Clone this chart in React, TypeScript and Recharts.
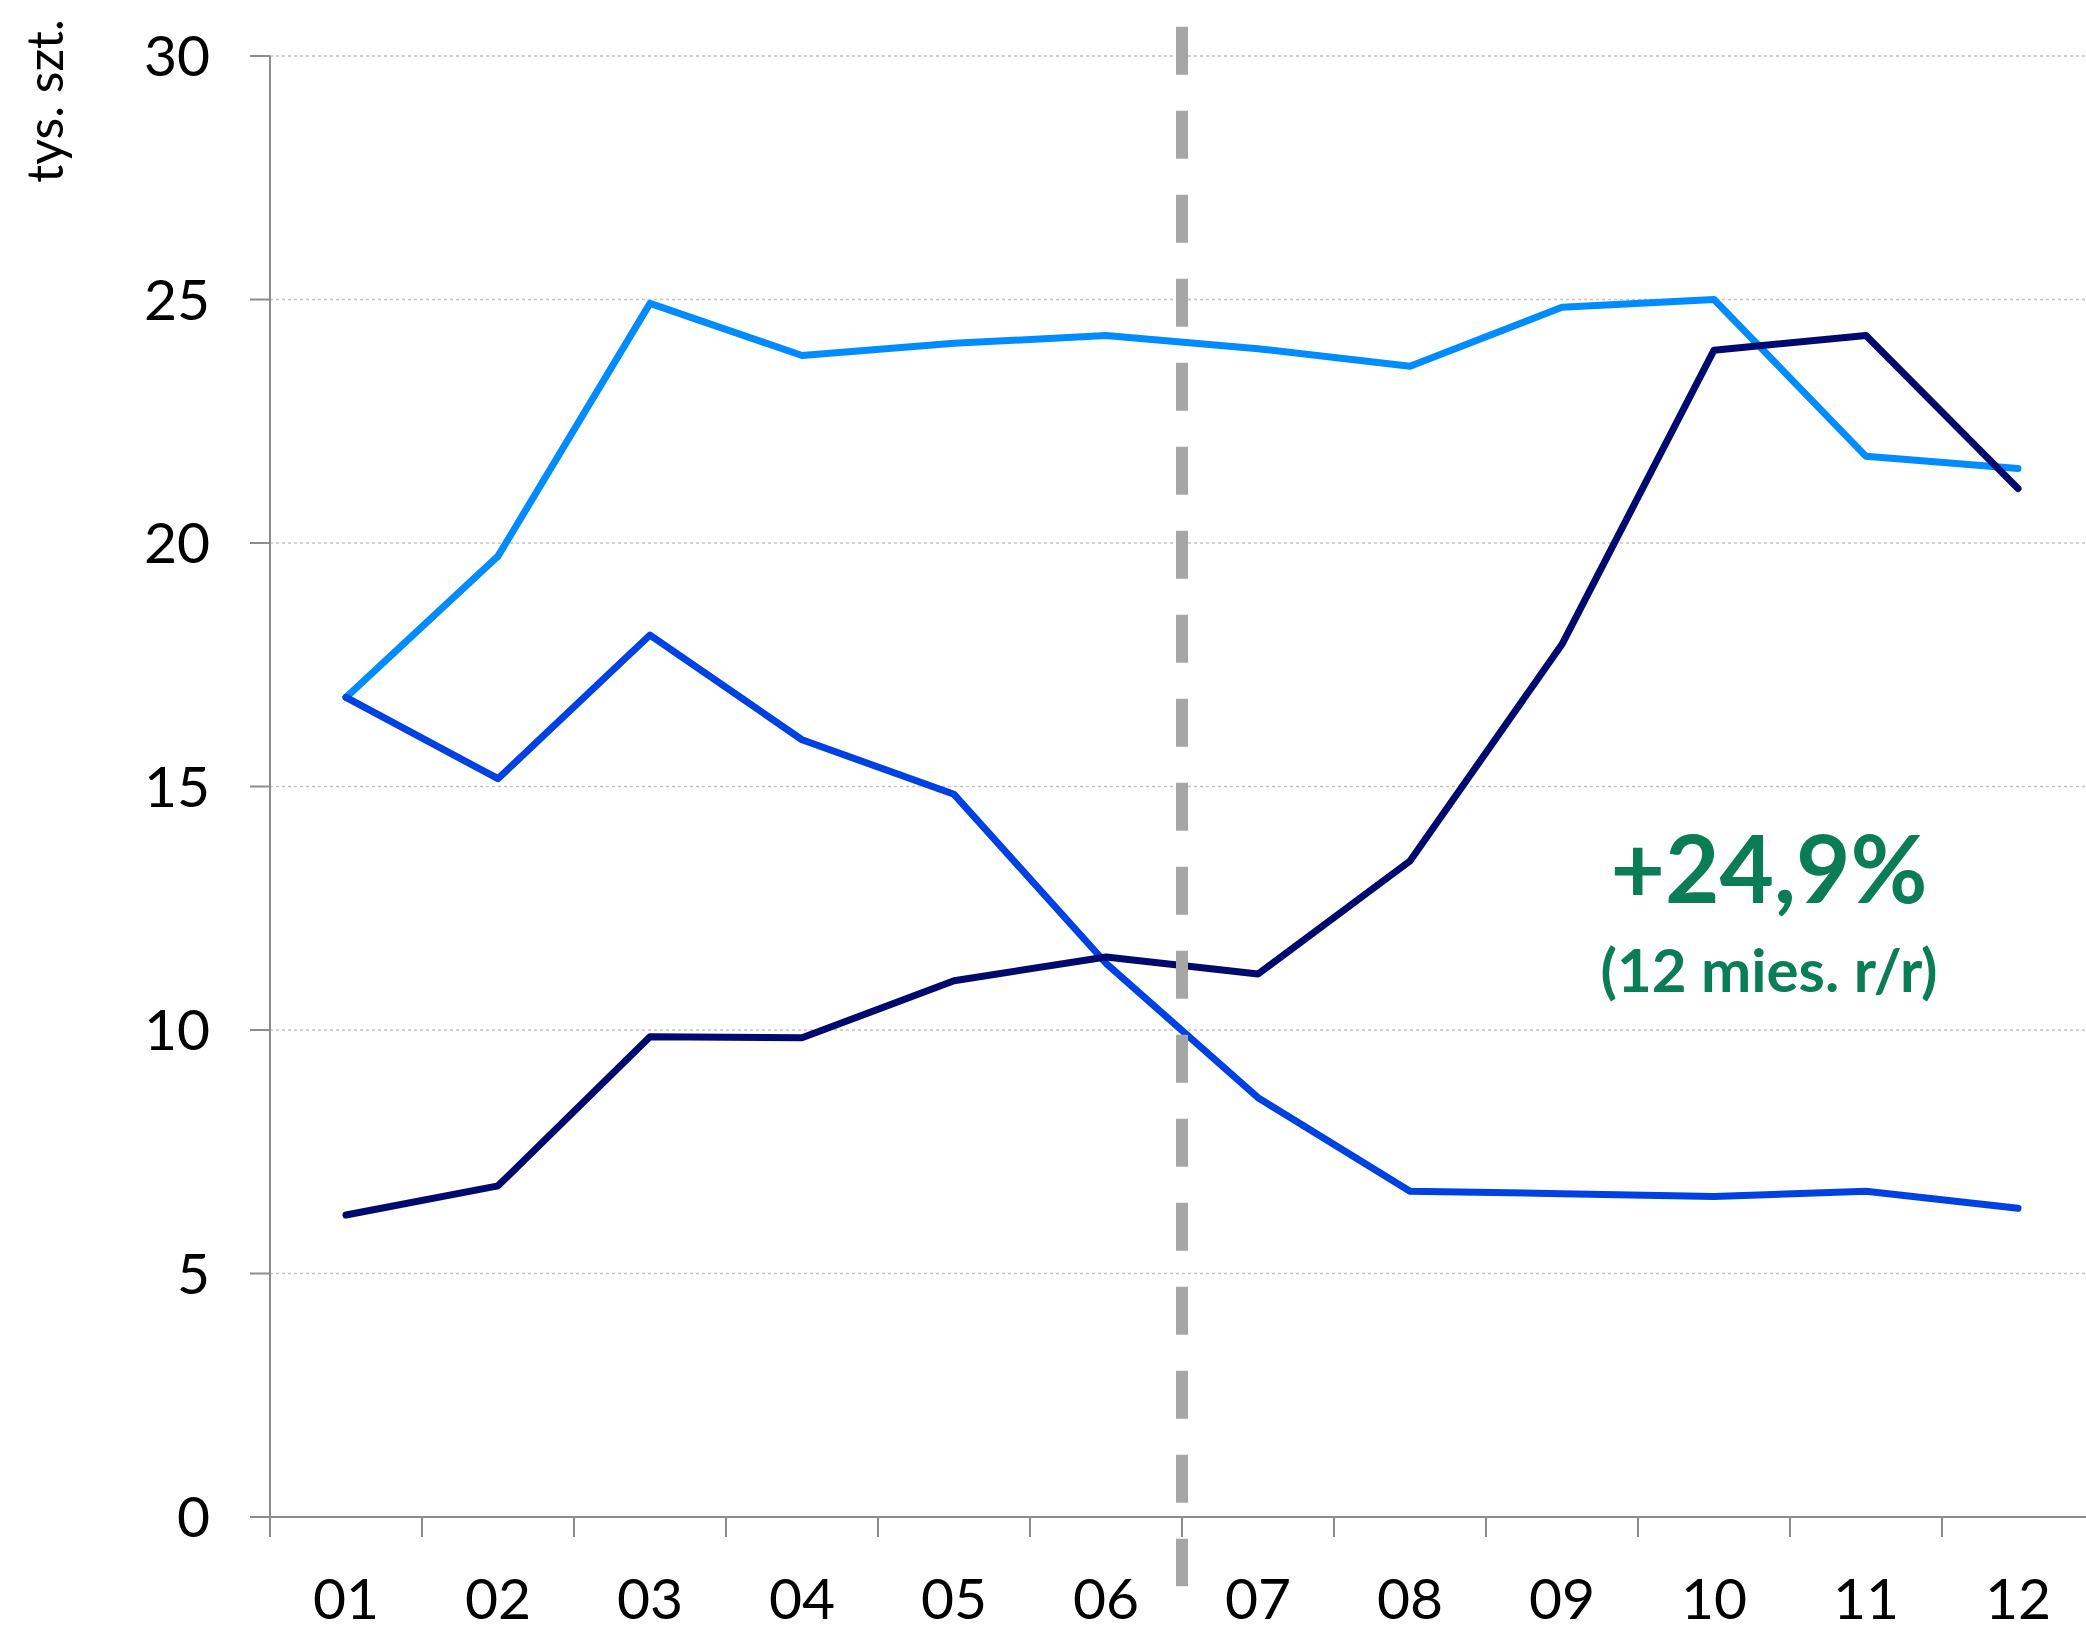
import React from 'react';
import {
  LineChart,
  Line,
  XAxis,
  YAxis,
  CartesianGrid,
  ReferenceLine,
} from 'recharts';

// Monthly values, tys. szt. — three series.
const MONTHS = ['01', '02', '03', '04', '05', '06', '07', '08', '09', '10', '11', '12'];
const LIGHT = [16.83, 19.73, 24.92, 23.85, 24.1, 24.26, 23.99, 23.63, 24.84, 25.0, 21.78, 21.53];
const MID = [16.83, 15.16, 18.11, 15.96, 14.84, 11.37, 8.61, 6.69, 6.64, 6.58, 6.69, 6.34];
const NAVY = [6.2, 6.8, 9.86, 9.84, 11.01, 11.5, 11.15, 13.47, 17.92, 23.96, 24.26, 21.12];
const Y_TICKS = [0, 5, 10, 15, 20, 25, 30];
const X_TICKS = [0, 1, 2, 3, 4, 5, 6, 7, 8, 9, 10, 11, 12];

// boundary between 06 and 07, dashed divider
const DIVIDER_X = 6;

const W = 2094;
const H = 1632;
const LEFT = 270;
const BAND = (W - LEFT) / MONTHS.length;
const FONT = 'Lato, "Open Sans", sans-serif';
const AXIS = '#8c8c8c';
const LINE_W = 7;

const data = MONTHS.map((m, i) => ({
  month: m,
  x: i + 0.5,
  light: LIGHT[i],
  mid: MID[i],
  navy: NAVY[i],
}));

function MonthTick(props: any) {
  const { x, y, payload } = props;
  const label = MONTHS[payload.value];
  if (label === undefined) return null;
  return (
    <text
      x={x + BAND / 2}
      y={y + 82}
      textAnchor="middle"
      fontSize={57}
      fontFamily={FONT}
      fill="#000"
    >
      {label}
    </text>
  );
}

export default function App() {
  return (
    <div
      style={{
        position: 'fixed',
        left: 0,
        top: 0,
        width: 2086,
        height: H,
        overflow: 'hidden',
        background: '#fff',
      }}
    >
      <LineChart width={W} height={H} data={data} margin={{ top: 56, right: 0, bottom: 0, left: 0 }}>
        <CartesianGrid vertical={false} stroke="#c4c4c4" strokeDasharray="3 3" strokeWidth={1.5} />
        <XAxis
          dataKey="x"
          type="number"
          domain={[0, 12]}
          ticks={X_TICKS}
          interval={0}
          height={115}
          tickSize={20}
          tickMargin={0}
          axisLine={{ stroke: AXIS, strokeWidth: 2 }}
          tickLine={{ stroke: AXIS, strokeWidth: 2 }}
          tick={<MonthTick />}
        />
        <YAxis
          domain={[0, 30]}
          ticks={Y_TICKS}
          interval={0}
          width={LEFT}
          tickSize={20}
          tickMargin={40}
          axisLine={{ stroke: AXIS, strokeWidth: 2 }}
          tickLine={{ stroke: AXIS, strokeWidth: 2 }}
          tick={{ fontSize: 57, fontFamily: FONT, fill: '#000' }}
        />
        <Line
          dataKey="light"
          stroke="#008cff"
          strokeWidth={LINE_W}
          dot={false}
          strokeLinecap="round"
          strokeLinejoin="round"
          isAnimationActive={false}
        />
        <Line
          dataKey="mid"
          stroke="#0041e3"
          strokeWidth={LINE_W}
          dot={false}
          strokeLinecap="round"
          strokeLinejoin="round"
          isAnimationActive={false}
        />
        <Line
          dataKey="navy"
          stroke="#000a6e"
          strokeWidth={LINE_W}
          dot={false}
          strokeLinecap="round"
          strokeLinejoin="round"
          isAnimationActive={false}
        />
        <ReferenceLine
          segment={[
            { x: DIVIDER_X, y: 30.6 },
            { x: DIVIDER_X, y: -1.42 },
          ]}
          ifOverflow="visible"
          stroke="#a6a6a6"
          strokeWidth={12}
          strokeDasharray="48 36"
        />
      </LineChart>
      <svg
        width={2086}
        height={H}
        style={{ position: 'absolute', left: 0, top: 0, pointerEvents: 'none' }}
      >
        <text
          transform="translate(63,101) rotate(-90)"
          textAnchor="middle"
          fontSize={50}
          fontFamily={FONT}
          fill="#000"
        >
          tys. szt.
        </text>
        <text
          x={1769}
          y={903}
          textAnchor="middle"
          fontSize={94}
          fontWeight="bold"
          fontFamily={FONT}
          fill="#0b7d55"
        >
          +24,9%
        </text>
        <text
          x={1769}
          y={992}
          textAnchor="middle"
          fontSize={60}
          fontWeight="bold"
          fontFamily={FONT}
          fill="#0b7d55"
        >
          (12 mies. r/r)
        </text>
      </svg>
    </div>
  );
}
